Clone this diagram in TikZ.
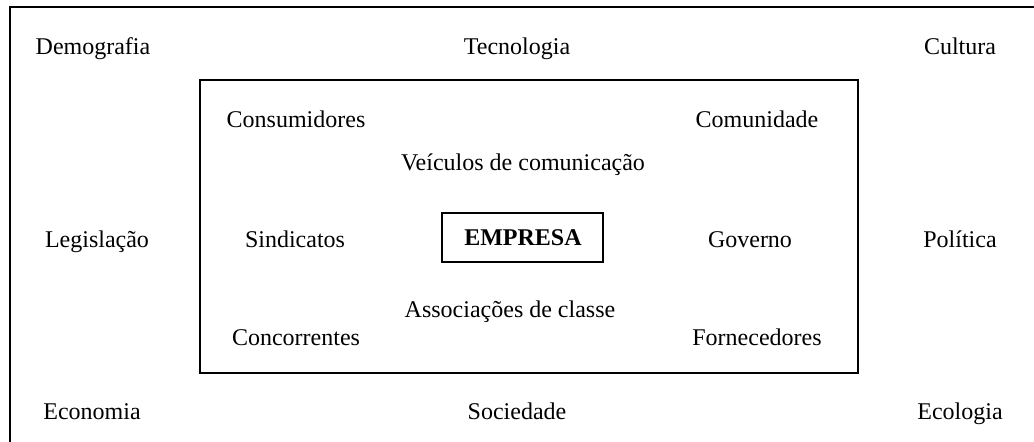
\documentclass[tikz,border=0pt]{standalone}
\usepackage{fontspec}
\setmainfont{Liberation Serif}
\usepackage{tikz}

\begin{document}
\begin{tikzpicture}[x=0.5pt,y=-0.5pt,every node/.style={anchor=base,font=\fontsize{12}{14}\selectfont}]
			\useasboundingbox (0,0) rectangle (1034,441);
			\clip (0,0) rectangle (1034,441);
			
			% ambiente externo
			\draw[line width=1.1pt] (10,7) rectangle (1060,470);
			\node (demo) at (93,54) {Demografia};
			\node (tecno) at (517,54) {Tecnologia};
			\node (cult) at (960,54) {Cultura};
			\node (legis) at (97,247) {Legislação};
			\node (polit) at (960,247) {Política};
			\node (econ) at (92,419) {Economia};
			\node (socie) at (517,419) {Sociedade};
			\node (ecol) at (960,419) {Ecologia};
			
			% ambiente operacional
			\draw[line width=1.3pt] (200,80) rectangle (858,373);
			\node (consu) at (296,127) {Consumidores};
			\node (comun) at (757,127) {Comunidade};
			\node (veic) at (523,170) {Veículos de comunicação};
			\node (sind) at (295,247) {Sindicatos};
			\node (gov) at (750,247) {Governo};
			\node (assoc) at (510,317) {Associações de classe};
			\node (conc) at (296,345) {Concorrentes};
			\node (forn) at (757,345) {Fornecedores};
			
			% empresa
			\draw[line width=1.2pt] (442,213) rectangle (603,262);
			\node[font=\fontsize{12}{14}\selectfont\bfseries] (emp) at (523,245) {EMPRESA};
			
		\end{tikzpicture}
\end{document}
